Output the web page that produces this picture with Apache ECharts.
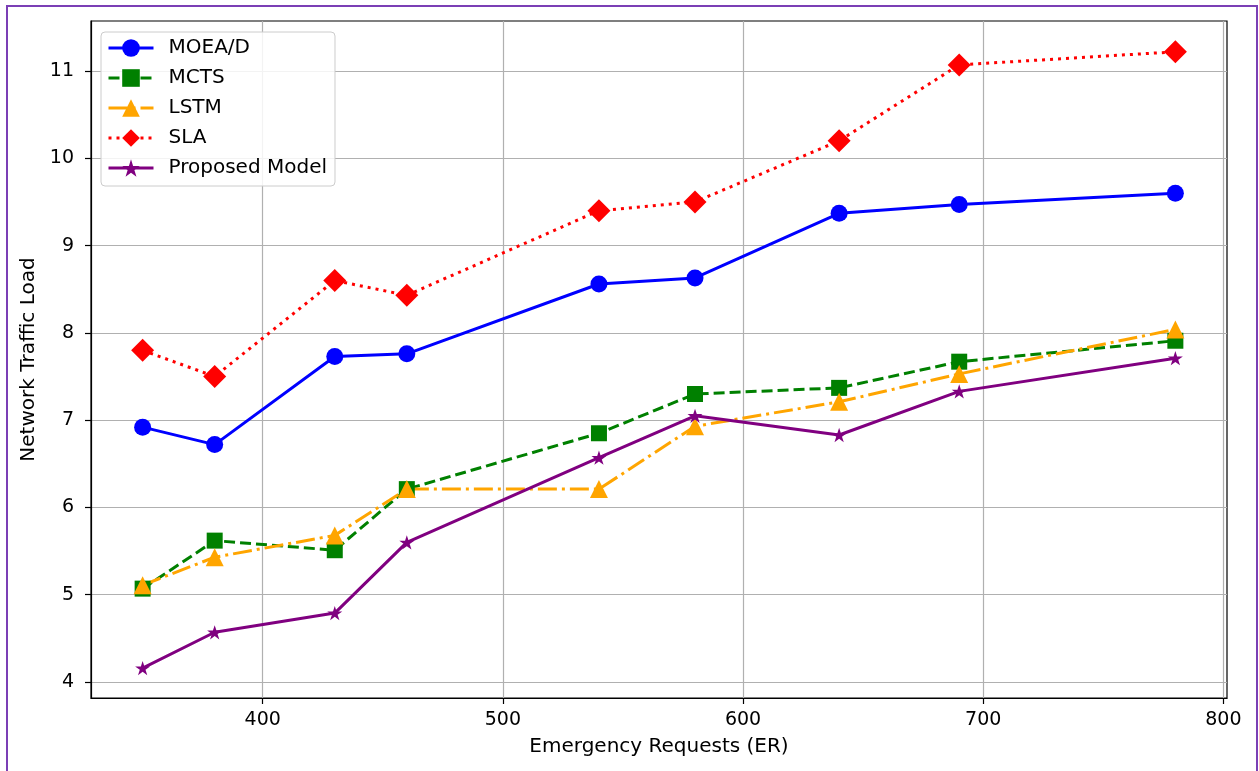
<!DOCTYPE html>
<html>
<head>
<meta charset="utf-8">
<script src="https://cdn.jsdelivr.net/npm/echarts@6/dist/echarts.min.js"></script>
<style>
  html, body { margin: 0; padding: 0; background: #fff; }
  #chart { width: 1259px; height: 771px; }
</style>
</head>
<body>
<div id="chart"></div>
<script>
const requests = [350, 380, 430, 460, 540, 580, 640, 690, 780];
const moead    = [6.92, 6.72, 7.73, 7.76, 8.56, 8.63, 9.37, 9.47, 9.60];
const mcts     = [5.07, 5.62, 5.51, 6.21, 6.85, 7.30, 7.37, 7.67, 7.91];
const lstm     = [5.11, 5.43, 5.68, 6.21, 6.21, 6.93, 7.21, 7.53, 8.04];
const sla      = [7.80, 7.50, 8.60, 8.43, 9.40, 9.50, 10.20, 11.07, 11.22];
const proposed = [4.16, 4.57, 4.79, 5.60, 6.57, 7.05, 6.83, 7.33, 7.71];
const xTicks = [400, 500, 600, 700, 800];
const yTicks = [4, 5, 6, 7, 8, 9, 10, 11];

const FONT = 'DejaVu Sans';
const star = 'path://M50,0L61.23,34.55L97.55,34.55L68.17,55.9L79.39,90.45L50,69.1L20.61,90.45L31.83,55.9L2.45,34.55L38.77,34.55Z';

function pairs(ys) { return requests.map((x, i) => [x, ys[i]]); }

function mk(name, ys, color, dash, symbol, size) {
  return {
    name: name,
    type: 'line',
    data: pairs(ys),
    color: color,
    symbol: symbol,
    symbolSize: size,
    symbolKeepAspect: true,
    showAllSymbol: true,
    itemStyle: { color: color, borderColor: color, borderWidth: 0 },
    lineStyle: { color: color, width: 3, type: dash, cap: 'butt' },
    emphasis: { disabled: true },
    animation: false
  };
}

const chart = echarts.init(document.getElementById('chart'), null, { renderer: 'canvas' });
chart.setOption({
  animation: false,
  backgroundColor: '#ffffff',
  textStyle: { fontFamily: FONT },
  graphic: [{
    type: 'rect',
    shape: { x: 7, y: 6, width: 1250, height: 800 },
    style: { fill: 'none', stroke: '#7b3fb5', lineWidth: 2 },
    z: 100
  }],
  grid: {
    left: 91, top: 21, right: 32, bottom: 73,
    show: true, borderColor: '#000', borderWidth: 1.2, backgroundColor: 'transparent'
  },
  legend: {
    orient: 'vertical',
    left: 101, top: 32,
    padding: [6, 8, 8, 6],
    itemWidth: 45, itemHeight: 22, itemGap: 10,
    backgroundColor: 'rgba(255,255,255,0.85)',
    borderColor: '#cccccc', borderWidth: 1, borderRadius: 4,
    lineStyle: { width: 3 },
    textStyle: { fontFamily: FONT, fontSize: 20, color: '#000', padding: [0, 0, 0, 10] },
    data: ['MOEA/D', 'MCTS', 'LSTM', 'SLA', 'Proposed Model']
  },
  xAxis: {
    type: 'value',
    min: 328.5, max: 801.5,
    name: 'Emergency Requests (ER)',
    nameLocation: 'middle', nameGap: 39,
    nameTextStyle: { fontFamily: FONT, fontSize: 20, color: '#000' },
    axisLine: { show: true, lineStyle: { color: '#000', width: 1.2 } },
    axisTick: { show: true, inside: false, length: 6, lineStyle: { color: '#000', width: 1.2 }, customValues: xTicks },
    axisLabel: { fontFamily: FONT, fontSize: 19, color: '#000', margin: 13, customValues: xTicks },
    splitLine: { show: true, lineStyle: { color: '#b0b0b0', width: 1.2 } }
  },
  yAxis: {
    type: 'value',
    min: 3.817, max: 11.573,
    name: 'Network Traffic Load',
    nameLocation: 'middle', nameGap: 48,
    nameTextStyle: { fontFamily: FONT, fontSize: 20, color: '#000' },
    axisLine: { show: true, lineStyle: { color: '#000', width: 1.2 } },
    axisTick: { show: true, inside: false, length: 6, lineStyle: { color: '#000', width: 1.2 }, customValues: yTicks },
    axisLabel: { fontFamily: FONT, fontSize: 19, color: '#000', margin: 17, customValues: yTicks },
    splitLine: { show: true, lineStyle: { color: '#b0b0b0', width: 1.2 } }
  },
  series: [
    mk('MOEA/D', moead, '#0000ff', 'solid', 'circle', 17),
    mk('MCTS', mcts, '#008000', [11, 5], 'rect', 16),
    mk('LSTM', lstm, '#ffa500', [19, 5, 3, 5], 'triangle', 18),
    mk('SLA', sla, '#ff0000', [3, 5], 'diamond', 23),
    mk('Proposed Model', proposed, '#800080', 'solid', star, 15)
  ]
});
</script>
</body>
</html>
